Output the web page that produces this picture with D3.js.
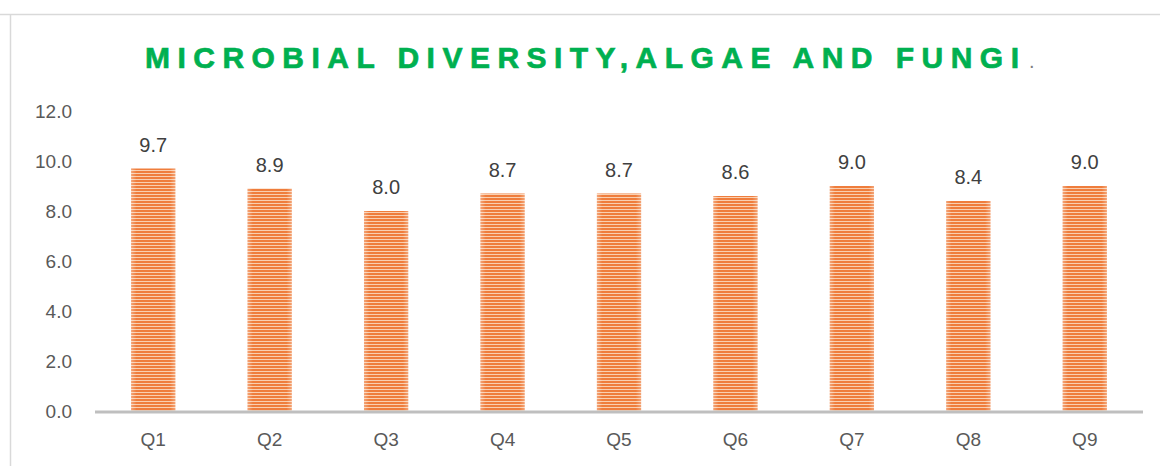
<!DOCTYPE html>
<meta charset="utf-8">
<style>
  body { margin: 0; background: #fff; font-family: "Liberation Sans", Arial, sans-serif; }
  .axis text { font-size: 19px; fill: #595959; }
  .y.axis line, .y.axis .domain { display: none; }
  .x.axis line, .x.axis .domain { display: none; }
  .bar-label { font-size: 20px; fill: #404040; text-anchor: middle; }
  .title { font-size: 30px; font-weight: bold; fill: #00b050; stroke: #00b050; stroke-width: 0.7px; }
</style>
<body>
<div id="chart"></div>
<script src="https://d3js.org/d3.v7.min.js"></script>
<script>
// data
const categories = ["Q1", "Q2", "Q3", "Q4", "Q5", "Q6", "Q7", "Q8", "Q9"];
const values = [9.7, 8.9, 8.0, 8.7, 8.7, 8.6, 9.0, 8.4, 9.0];
const yTicks = [0, 2, 4, 6, 8, 10, 12];

const W = 1160, H = 466;
const margin = {top: 111, right: 17, bottom: 55, left: 95};
const width = W - margin.left - margin.right,
      height = H - margin.top - margin.bottom;

const svg = d3.select("#chart").append("svg")
  .attr("width", W)
  .attr("height", H);

// pattern for striped bars
const defs = svg.append("defs");
const pat = defs.append("pattern")
  .attr("id", "stripes")
  .attr("patternUnits", "userSpaceOnUse")
  .attr("width", 8)
  .attr("height", 3);
pat.append("rect").attr("width", 8).attr("height", 3).attr("fill", "#f9cfb0");
pat.append("rect").attr("width", 8).attr("height", 2).attr("fill", "#ef7d3c");

// soft edges on the bars
const grad = defs.append("linearGradient")
  .attr("id", "edge")
  .attr("x1", "0").attr("x2", "1").attr("y1", "0").attr("y2", "0");
grad.append("stop").attr("offset", "0").attr("stop-color", "#fff").attr("stop-opacity", 0.3);
grad.append("stop").attr("offset", "0.12").attr("stop-color", "#fff").attr("stop-opacity", 0);
grad.append("stop").attr("offset", "0.88").attr("stop-color", "#fff").attr("stop-opacity", 0);
grad.append("stop").attr("offset", "1").attr("stop-color", "#fff").attr("stop-opacity", 0.3);

// chart frame
svg.append("line")
  .attr("x1", 0).attr("x2", W).attr("y1", 14.5).attr("y2", 14.5)
  .attr("stroke", "#d9d9d9").attr("stroke-width", 1.5);
svg.append("line")
  .attr("x1", 10.5).attr("x2", 10.5).attr("y1", 14).attr("y2", H)
  .attr("stroke", "#d9d9d9").attr("stroke-width", 1.5);

// title
svg.append("text")
  .attr("class", "title")
  .attr("x", 145)
  .attr("y", 68)
  .attr("textLength", 874)
  .attr("lengthAdjust", "spacing")
  .text("MICROBIAL DIVERSITY,ALGAE AND FUNGI");
svg.append("text")
  .attr("x", 1029)
  .attr("y", 68)
  .attr("fill", "#7f7f7f")
  .attr("font-size", "20px")
  .text(".");

const g = svg.append("g")
  .attr("transform", "translate(" + margin.left + "," + margin.top + ")");

const x = d3.scaleBand()
  .domain(categories)
  .range([0, width])
  .paddingInner(0.62)
  .paddingOuter(0.31);

const y = d3.scaleLinear()
  .domain([0, 12])
  .range([height, 0]);

// y axis
g.append("g")
  .attr("class", "y axis")
  .call(d3.axisLeft(y).tickValues(yTicks).tickFormat(d3.format(".1f")).tickSize(0).tickPadding(23));

// x axis
g.append("g")
  .attr("class", "x axis")
  .attr("transform", "translate(0," + height + ")")
  .call(d3.axisBottom(x).tickSize(0).tickPadding(22));

// bars
const bars = g.selectAll("g.bar")
  .data(values)
  .enter()
  .append("g")
  .attr("class", "bar");

bars.append("rect")
  .attr("x", (d, i) => x(categories[i]))
  .attr("width", x.bandwidth())
  .attr("y", d => y(d))
  .attr("height", d => height - y(d))
  .attr("fill", "url(#stripes)");

bars.append("rect")
  .attr("x", (d, i) => x(categories[i]))
  .attr("width", x.bandwidth())
  .attr("y", d => y(d))
  .attr("height", d => height - y(d))
  .attr("fill", "url(#edge)");

// baseline
g.append("line")
  .attr("x1", 0).attr("x2", width)
  .attr("y1", height + 1).attr("y2", height + 1)
  .attr("stroke", "#bfbfbf").attr("stroke-width", 3);

// value labels
g.selectAll("text.bar-label")
  .data(values)
  .enter()
  .append("text")
  .attr("class", "bar-label")
  .attr("x", (d, i) => x(categories[i]) + x.bandwidth() / 2)
  .attr("y", d => y(d) - 17)
  .text(d => d3.format(".1f")(d));
</script>
</body>
